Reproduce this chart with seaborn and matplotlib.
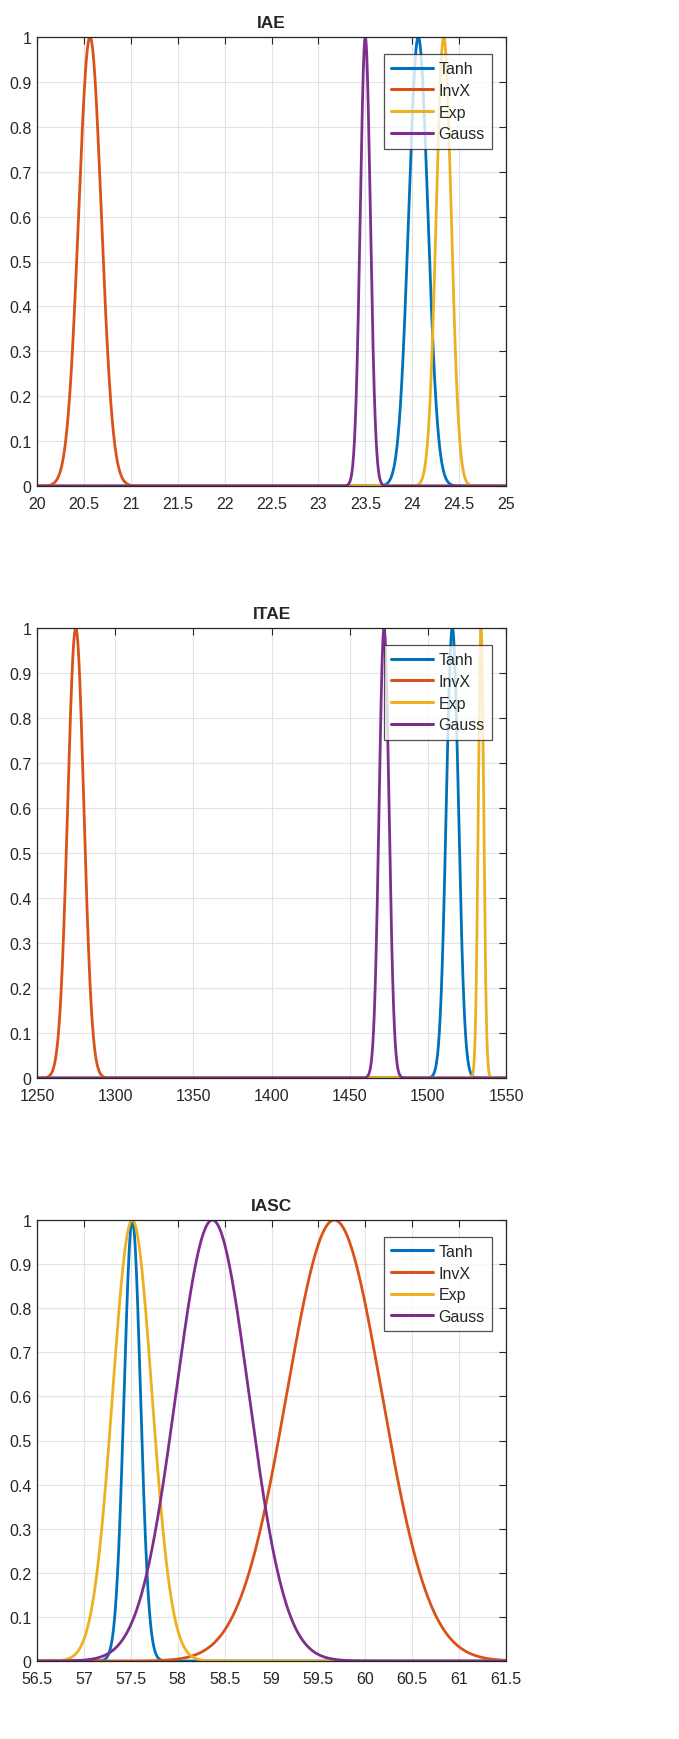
import numpy as np
import pandas as pd
import matplotlib
matplotlib.use("Agg")
import matplotlib.pyplot as plt
import seaborn as sns
from matplotlib.ticker import FuncFormatter

# ---- data ----
methods = ["Tanh", "InvX", "Exp", "Gauss"]
colors = ["#0072BD", "#D95319", "#EDB120", "#7E2F8E"]

titles = ["IAE", "ITAE", "IASC"]

iae_mean = [24.065, 20.565, 24.336, 23.50]
iae_std = [0.103, 0.121, 0.080, 0.054]

itae_mean = [1515.7, 1274.8, 1534.0, 1472.0]
itae_std = [3.9, 5.16, 1.72, 3.17]

iasc_mean = [57.516, 59.67, 57.516, 58.37]
iasc_std = [0.0875, 0.507, 0.21, 0.389]

xlims = [(20, 25), (1250, 1550), (56.5, 61.5)]
xticks = [np.arange(20, 25.01, 0.5), np.arange(1250, 1550.1, 50), np.arange(56.5, 61.51, 0.5)]
yticks = np.arange(0, 1.001, 0.1)

means = [iae_mean, itae_mean, iasc_mean]
stds = [iae_std, itae_std, iasc_std]

# ---- style ----
sns.set_theme(style="white")
plt.rcParams["font.family"] = ["Liberation Sans", "DejaVu Sans"]

fig = plt.figure(figsize=(6.79, 17.40), dpi=100)
W, H = 679.0, 1740.0
boxes = [(37, 38, 506, 487), (37, 629, 506, 1079), (37, 1221, 506, 1662)]

txt = "#262626"
fmt = FuncFormatter(lambda v, p: "%g" % round(v, 6))
for i in range(3):
    l, t, r, b = boxes[i]
    ax = fig.add_axes([l / W, 1 - b / H, (r - l) / W, (b - t) / H])
    lo, hi = xlims[i]
    xs = np.linspace(lo, hi, 3000)
    frames = []
    for m, mu, sd in zip(methods, means[i], stds[i]):
        frames.append(pd.DataFrame({"x": xs,
                                    "y": np.exp(-0.5 * ((xs - mu) / sd) ** 2),
                                    "method": m}))
    df = pd.concat(frames, ignore_index=True)
    sns.lineplot(data=df, x="x", y="y", hue="method", hue_order=methods,
                 palette=colors, linewidth=2.0, ax=ax, legend=True,
                 estimator=None, sort=False)
    ax.set_xlim(lo, hi)
    ax.set_ylim(0, 1)
    ax.set_xticks(xticks[i])
    ax.set_yticks(yticks)
    ax.xaxis.set_major_formatter(fmt)
    ax.yaxis.set_major_formatter(fmt)
    ax.set_xlabel("")
    ax.set_ylabel("")
    ax.grid(True, color="#e3e3e3", linewidth=0.8)
    ax.set_axisbelow(True)
    for s in ax.spines.values():
        s.set_color(txt)
        s.set_linewidth(0.9)
        s.set_visible(True)
    ax.tick_params(direction="in", length=5, width=0.8, color=txt,
                   top=True, right=True, labelsize=11.5, labelcolor=txt)
    ax.tick_params(axis="x", pad=7)
    ax.tick_params(axis="y", pad=4)
    ax.set_title(titles[i], fontsize=12.5, fontweight="bold", pad=7)
    leg = ax.legend(loc="upper right", bbox_to_anchor=(0.970, 0.962),
                    fontsize=11.5, frameon=True, fancybox=False,
                    handlelength=2.6, labelspacing=0.42, borderpad=0.45,
                    handletextpad=0.35, borderaxespad=0)
    leg.get_frame().set_edgecolor(txt)
    leg.get_frame().set_linewidth(0.9)
    for ln in leg.get_lines():
        ln.set_linewidth(2.2)

fig.savefig("out.png", dpi=100)
